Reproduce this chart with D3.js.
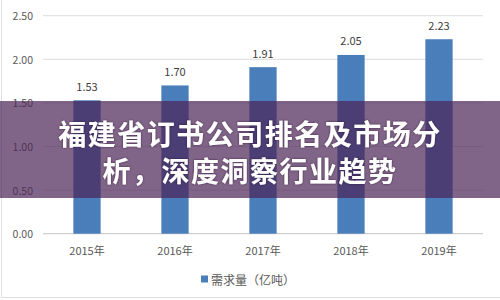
<!DOCTYPE html>
<html>
<head>
<meta charset="utf-8">
<script src="https://cdn.jsdelivr.net/npm/d3@7/dist/d3.min.js"></script>
<style>
  html, body { margin: 0; padding: 0; background: #fff; }
  svg { display: block; font-family: "Noto Sans CJK SC", "Noto Sans", sans-serif; }
</style>
</head>
<body>
<svg id="chart" width="500" height="300"></svg>
<script>
// Annual demand (100 million tonnes)
const years = ["2015年", "2016年", "2017年", "2018年", "2019年"];
const demand = [1.53, 1.70, 1.91, 2.05, 2.23];
const yTicks = [0, 0.5, 1.0, 1.5, 2.0, 2.5];
const seriesName = "需求量（亿吨）";
const titleLines = ["福建省订书公司排名及市场分", "析，深度洞察行业趋势"];

const svg = d3.select("#chart");
const W = 500, H = 300;
const plot = { left: 43, right: 483, top: 15.7, bottom: 233.7 };

const x = d3.scaleBand().domain(years).range([plot.left, plot.right]).padding(0);
const y = d3.scaleLinear().domain([0, 2.5]).range([plot.bottom, plot.top]);
const barW = x.bandwidth() * 0.31;

// outer frame (left and bottom edges)
svg.append("path")
  .attr("d", `M1.5,0 V297.5 H${W}`)
  .attr("fill", "none").attr("stroke", "#dedede").attr("stroke-width", 1);

// horizontal gridlines
svg.append("g").selectAll("line").data(yTicks).join("line")
  .attr("x1", plot.left).attr("x2", plot.right)
  .attr("y1", d => y(d)).attr("y2", d => y(d))
  .attr("stroke", d => d === 0 ? "#d0d0d0" : "#e2e2e2").attr("stroke-width", 1.2);

// y tick labels
svg.append("g").selectAll("text").data(yTicks).join("text")
  .attr("x", 33).attr("y", d => y(d))
  .attr("text-anchor", "end").attr("dominant-baseline", "central")
  .attr("font-size", 10.5).attr("fill", "#595959")
  .text(d => d3.format(".2f")(d));

// bars
svg.append("g").selectAll("rect").data(demand).join("rect")
  .attr("x", (d, i) => x(years[i]) + x.bandwidth() / 2 - barW / 2)
  .attr("width", barW)
  .attr("y", d => y(d))
  .attr("height", d => y(0) - y(d))
  .attr("fill", "#4a7ebb");

// value labels
svg.append("g").selectAll("text").data(demand).join("text")
  .attr("x", (d, i) => x(years[i]) + x.bandwidth() / 2)
  .attr("y", d => y(d) - 14.5)
  .attr("text-anchor", "middle").attr("dominant-baseline", "central")
  .attr("font-size", 11).attr("fill", "#404040")
  .text(d => d3.format(".2f")(d));

// x category labels
svg.append("g").selectAll("text").data(years).join("text")
  .attr("x", d => x(d) + x.bandwidth() / 2)
  .attr("y", 250)
  .attr("text-anchor", "middle").attr("dominant-baseline", "central")
  .attr("font-size", 11).attr("fill", "#595959")
  .text(d => d);

// legend
const legend = svg.append("g");
legend.append("rect").attr("x", 201).attr("y", 275.5).attr("width", 7).attr("height", 7).attr("fill", "#4a7ebb");
legend.append("text").attr("x", 211).attr("y", 279)
  .attr("dominant-baseline", "central").attr("font-size", 12).attr("fill", "#595959")
  .text(seriesName);

// title banner
svg.append("rect").attr("x", 0).attr("y", 101).attr("width", W).attr("height", 97)
  .attr("fill", "rgb(75,35,85)").attr("fill-opacity", 0.7);

const defs = svg.append("defs");
const f = defs.append("filter").attr("id", "ts").attr("x", "-10%").attr("y", "-30%").attr("width", "120%").attr("height", "160%");
f.append("feDropShadow").attr("dx", 0).attr("dy", 0).attr("stdDeviation", 1.2)
  .attr("flood-color", "#2a1530").attr("flood-opacity", 0.7);

svg.append("g").selectAll("text").data(titleLines).join("text")
  .attr("x", W / 2).attr("y", (d, i) => 132.5 + i * 37.5)
  .attr("text-anchor", "middle").attr("dominant-baseline", "central")
  .attr("font-size", 28).attr("font-weight", 700).attr("fill", "#ffffff")
  .attr("letter-spacing", 1.5)
  .attr("filter", "url(#ts)")
  .text(d => d);
</script>
</body>
</html>
